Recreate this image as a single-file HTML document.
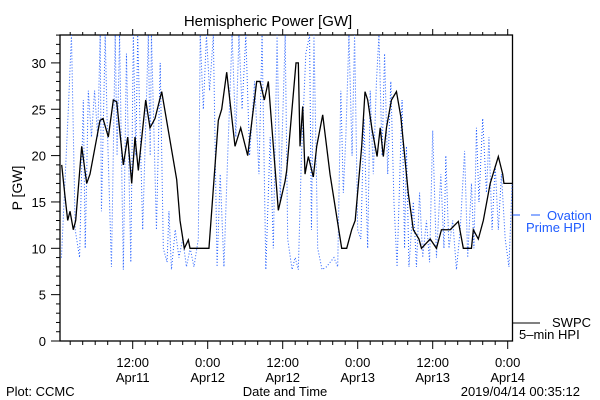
<!DOCTYPE html>
<html><head><meta charset="utf-8"><style>
body{margin:0;background:#fff}
svg{display:block;font-family:"Liberation Sans",sans-serif}
</style></head><body>
<svg width="600" height="400" viewBox="0 0 600 400">
<g id="root"></g>
</svg>
<script>
// Black series: SWPC 5-min HPI (hours since Apr11 00:00, GW)
const swpcHours=[0.64,1.17,1.6,1.97,2.5,2.88,3.84,4.64,5.17,6.77,7.25,8.1,8.9,9.44,10.5,11.2,11.84,12.37,12.9,14.08,14.77,15.57,16.64,19.04,19.57,20.26,20.9,21.17,24.2,25.7,26.24,27.04,28.37,29.28,30.4,31.84,32.37,33.06,33.7,35.3,36.37,36.64,38.13,38.5,38.77,39.2,39.57,40.1,40.9,41.44,42.4,43.57,45.44,46.24,47.04,47.6,48.64,49.17,49.6,50.3,51.1,51.6,52.1,52.6,53.4,54.2,54.9,56.1,56.9,57.8,58.2,59.6,60.6,61.4,62.8,64.1,64.9,66.2,66.5,67.3,68.1,69.2,70.5,71.2,71.4,72.7];
const swpcValues=[19,15.6,13,14,12,13,21,17,18,23.8,24,22,26,25.8,19,22,17,22,18.4,26,23,24,26.9,17.4,13,10,10.9,10,10,23.8,25,29,21,23,20,28,28,26,28,14.1,17.2,18.4,30,30,21,25.3,18,19.9,17.7,21,24.4,18,10,10,12,13,21,26.9,26,22.8,19.9,23,19.9,23,26,26.9,24.2,15.9,12,11,10,11,10,12,12,12.9,10,10,12,11,13,17,19.9,18,17,17];
// Blue series: Ovation Prime HPI
const ovHours=[0.6,1.7,2.2,2.8,3.5,4.1,4.4,4.9,5.4,5.9,6.4,6.8,7.0,7.6,7.9,8.6,9.2,9.5,9.9,10.5,11.0,11.7,12.1,12.5,12.8,13.6,14.5,14.8,15.0,15.8,16.4,16.9,17.5,17.8,18.2,18.8,19.4,20.0,20.6,21.2,21.8,22.5,22.8,23.3,23.8,24.3,24.9,25.5,26.0,26.6,27.2,27.9,28.5,29.0,29.5,30.1,30.7,31.5,32.2,32.7,33.3,34.0,34.5,35.1,35.6,36.4,36.8,37.5,38.0,38.5,39.0,39.7,40.3,40.6,41.0,41.6,42.3,43.0,43.6,44.2,44.8,45.3,45.7,46.1,46.6,47.1,47.5,48.0,48.5,49.0,49.6,50.0,50.5,51.0,51.4,51.9,52.3,52.8,53.3,53.8,54.3,55.1,55.5,55.8,56.2,56.9,57.4,57.9,58.4,59.0,59.5,60.0,60.6,61.3,61.8,62.1,62.6,63.2,63.8,64.4,65.1,65.6,66.2,66.6,67.0,67.4,68.0,68.6,69.0,69.5,70.0,70.5,71.0,71.6,72.2,72.7];
const ovValues=[9,25,33,12,9,26,10,27,22,27,22,33,14,33,24,8,33,20,33,7.7,31,8.5,33,20,33,12,33,20,33,12,30,10,8.5,14,7.7,12,9,11,8,10,8,11,33,25,33,27,33,8,18,8,20,33,22,33,25,33,20,28,18,33,7.7,22,10,33,15,33,11,7.7,9,7.7,20,31,33,12,33,10,7.7,8,8.5,9,8,27,16,22,33,20,33,12,11,24,10,27,18,28,33,20,31,18,28,15,8,26,10,21,8,15,8,16,9,13,8.5,22.7,9,18,10,20,10,13,7.7,12,20.5,9,17,10,23,15,24,16,22,12,19,12,18,11,8,17];
const yTicks=[0,5,10,15,20,25,30];
const xTickHours=[12,24,36,48,60,72];
const xTickTop=["12:00","0:00","12:00","0:00","12:00","0:00"];
const xTickBottom=["Apr11","Apr12","Apr12","Apr13","Apr13","Apr14"];

const L=60,R=512.5,T=35,B=341;
const X=h=>132.7+(h-12)*6.25;
const Y=v=>B-v*9.27;
const NS="http://www.w3.org/2000/svg";
const root=document.getElementById('root');
function mk(tag,attrs,parent){const e=document.createElementNS(NS,tag);for(const k in attrs)e.setAttribute(k,attrs[k]);(parent||root).appendChild(e);return e;}

const defs=mk('defs',{});
const cp=mk('clipPath',{id:'clip'},defs);
mk('rect',{x:L,y:T,width:R-L,height:B-T},cp);

const frame=mk('rect',{x:L,y:T,width:R-L,height:B-T,fill:'none',stroke:'#000','stroke-width':1.3});



for(let v=0;v<=33;v++){
  const major=v%5===0;
  const t=mk('line',{x1:major?51:56,x2:L,y1:Y(v),y2:Y(v),stroke:'#000','stroke-width':1});
  
  
}
yTicks.forEach(v=>{
  const t=mk('text',{x:46,y:Y(v)+5,'text-anchor':'end','font-size':13,fill:'#000'});
  t.textContent=String(v);
  
  
});
for(let h=2;h<=72;h+=2){
  const major=h%12===0;
  const t=mk('line',{x1:X(h),x2:X(h),y1:B,y2:B+(major?8:4),stroke:'#000','stroke-width':1});
  
  
  const t2=mk('line',{x1:X(h),x2:X(h),y1:T,y2:T-(major?6:3),stroke:'#000','stroke-width':1});
  
  
}
xTickHours.forEach((h,i)=>{
  const a=mk('text',{x:X(h),y:367,'text-anchor':'middle','font-size':13});
  a.textContent=xTickTop[i];
  
  
  const b=mk('text',{x:X(h),y:382,'text-anchor':'middle','font-size':13});
  b.textContent=xTickBottom[i];
  
  
});

const g=mk('g',{'clip-path':'url(#clip)'});
const ov=mk('polyline',{points:ovHours.map((h,i)=>X(h)+','+Y(ovValues[i])).join(' '),fill:'none',stroke:'#1f5cff','stroke-width':1,'stroke-dasharray':'1 2'},g);


const sw=mk('polyline',{points:swpcHours.map((h,i)=>X(h)+','+Y(swpcValues[i])).join(' '),fill:'none',stroke:'#000','stroke-width':1.3},g);



const lb=mk('line',{x1:R,x2:520,y1:215,y2:215,stroke:'#1f5cff'});


const lb2=mk('line',{x1:531,x2:540,y1:215,y2:215,stroke:'#1f5cff'});


function txt(s,x,y,name,attrs){const t=mk('text',Object.assign({x:x,y:y,'font-size':13},attrs||{}));t.textContent=s;return t;}
txt('Ovation',547,220,'legend-ovation-label',{fill:'#1f5cff'});
txt('Prime HPI',526,232,'legend-ovation-label-2',{fill:'#1f5cff'});
const lk=mk('line',{x1:R,x2:540,y1:323,y2:323,stroke:'#000'});


txt('SWPC',552,327,'legend-swpc-label');
txt('5\u2013min HPI',519,339,'legend-swpc-label-2');

txt('Hemispheric Power [GW]',268,26,'chart-title',{'text-anchor':'middle','font-size':15});
txt('P [GW]',0,0,'y-axis-title',{'text-anchor':'middle','font-size':14,transform:'translate(22,188) rotate(-90)'});
txt('Date and Time',285,396,'x-axis-title',{'text-anchor':'middle'});
txt('Plot: CCMC',6,396,'plot-credit');
txt('2019/04/14 00:35:12',580,396,'timestamp',{'text-anchor':'end'});
</script>
</body></html>
